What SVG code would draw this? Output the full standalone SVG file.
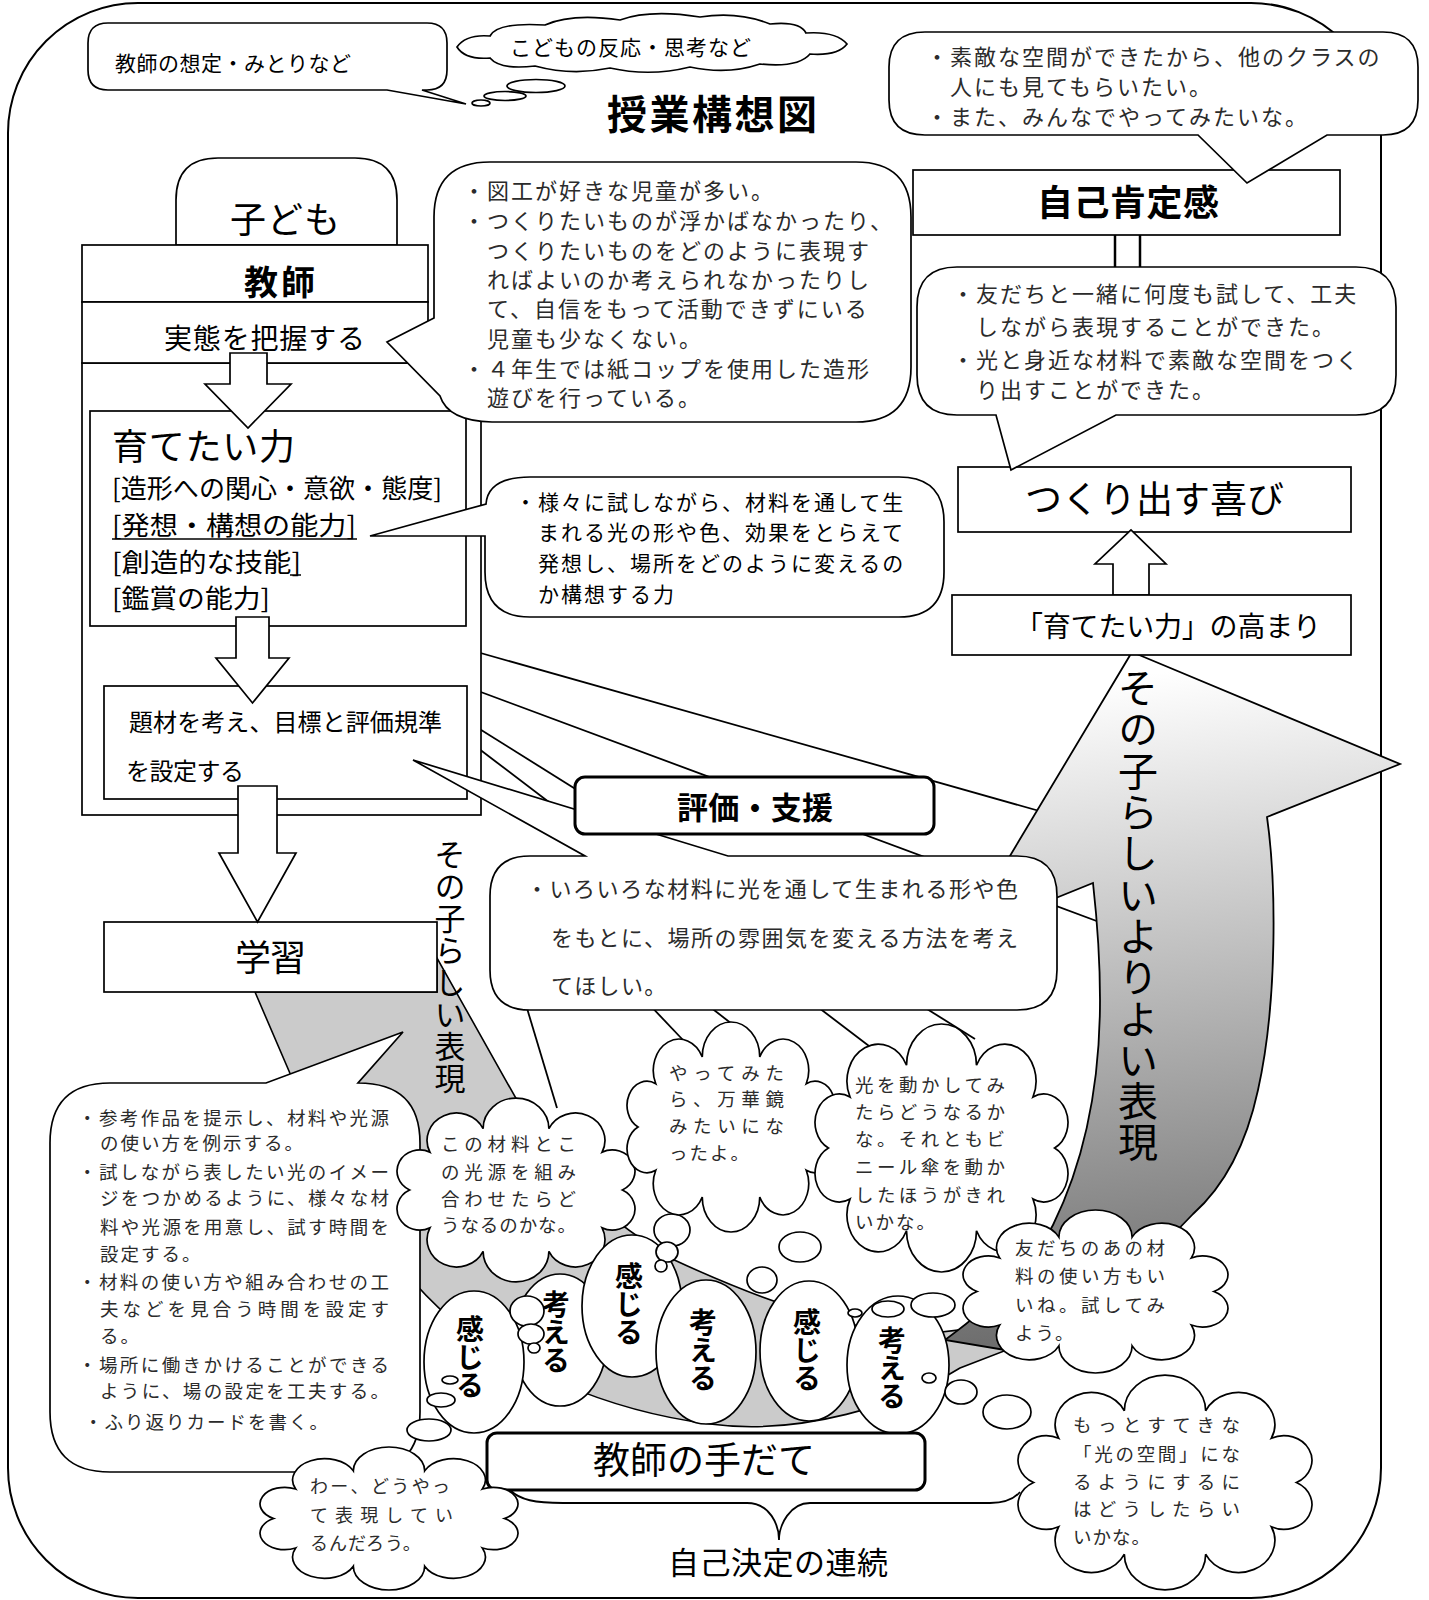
<svg xmlns="http://www.w3.org/2000/svg" width="1429" height="1600" viewBox="0 0 1429 1600">
<defs>
<style>
.g{font-family:"Noto Sans CJK JP","Noto Sans",sans-serif;fill:#000}
.m{font-family:"Noto Sans CJK JP","Noto Sans",sans-serif;fill:#2b2b2b}
.b{font-weight:700}
.s{fill:#fff;stroke:#000;stroke-width:1.7}
.t{fill:#fff;stroke:#000;stroke-width:3}
.ln{fill:none;stroke:#000;stroke-width:1.8}
.v{writing-mode:vertical-rl}
.cl{fill:#fff;stroke:#000;stroke-width:1.7}
</style>
<linearGradient id="ag" gradientUnits="userSpaceOnUse" x1="1100" y1="680" x2="1180" y2="1320">
<stop offset="0" stop-color="#ffffff"/><stop offset="1" stop-color="#6e6e6e"/>
</linearGradient>
<path id="cloud" vector-effect="non-scaling-stroke" d="M86,0 A1,1 0 0 1 69.6,32.9 A1,1 0 0 1 26.6,53.3 A1,1 0 0 1 -26.6,53.3 A1,1 0 0 1 -69.6,32.9 A1,1 0 0 1 -86,0 A1,1 0 0 1 -69.6,-32.9 A1,1 0 0 1 -26.6,-53.3 A1,1 0 0 1 26.6,-53.3 A1,1 0 0 1 69.6,-32.9 A1,1 0 0 1 86,0 Z"/>
</defs>

<rect id="frame" x="8" y="3" width="1373" height="1595" rx="130" fill="#fff" stroke="#000" stroke-width="2"/>

<g id="connectors" class="ln">
<line x1="470" y1="650" x2="1050" y2="814"/>
<line x1="470" y1="688" x2="1110" y2="926"/>
<line x1="470" y1="723" x2="975" y2="1039"/>
<line x1="470" y1="742" x2="890" y2="1062"/>
<line x1="523" y1="995" x2="557" y2="1108"/>
<line x1="645" y1="1000" x2="683" y2="1040"/>
<line x1="705" y1="1003" x2="741" y2="1031"/>
</g>

<g id="n-flow">
<path d="M255,992 L292,1078 C330,1170 385,1262 450,1318 C510,1365 600,1410 710,1424 C800,1436 900,1405 960,1368 L1012,1348 L992,1322 C950,1336 900,1336 850,1324 C790,1310 730,1286 670,1258 C610,1220 570,1185 545,1150 L437,958 L437,992 Z" fill="#cbcbcb" stroke="#000" stroke-width="1.6"/>
<path d="M1132,652 L1400,764 L1267,817 C1276,880 1278,1000 1258,1090 C1245,1150 1220,1190 1193,1214 C1140,1270 1070,1330 1005,1350 L945,1340 C1000,1300 1035,1260 1053,1225 C1080,1170 1100,1100 1100,1000 C1100,950 1096,910 1093,883 L962,936 Z" fill="url(#ag)" stroke="#000" stroke-width="1.8"/>
</g>

<g id="n-left">
<rect class="s" x="82" y="363" width="399" height="452"/>
<path class="s" d="M176,245 V200 Q176,158 218,158 H355 Q397,158 397,200 V245 Z"/>
<text class="g" x="230" y="233" font-size="36" textLength="110" lengthAdjust="spacing">子ども</text>
<rect class="s" x="82" y="245" width="346" height="57"/>
<text class="g b" x="244" y="295" font-size="34" textLength="71" lengthAdjust="spacing">教師</text>
<rect class="s" x="82" y="302" width="346" height="61"/>
<text class="g" x="164" y="349" font-size="28" textLength="201" lengthAdjust="spacing">実態を把握する</text>
<rect class="s" x="90" y="411" width="376" height="215"/>
<text class="g" x="112" y="460" font-size="36" textLength="183" lengthAdjust="spacing">育てたい力</text>
<text class="g" x="112" y="498" font-size="26" textLength="330" lengthAdjust="spacingAndGlyphs">[造形への関心・意欲・態度]</text>
<text class="g" x="112" y="535" font-size="26" textLength="244" lengthAdjust="spacingAndGlyphs">[発想・構想の能力]</text>
<line x1="112" y1="539" x2="357" y2="539" stroke="#000" stroke-width="1.5"/>
<text class="g" x="112" y="572" font-size="26" textLength="189" lengthAdjust="spacingAndGlyphs">[創造的な技能]</text>
<line x1="290" y1="575" x2="301" y2="575" stroke="#000" stroke-width="1.5"/>
<text class="g" x="112" y="608" font-size="26" textLength="158" lengthAdjust="spacingAndGlyphs">[鑑賞の能力]</text>
<rect class="s" x="104" y="686" width="363" height="113"/>
<text class="g" x="129" y="731" font-size="24" textLength="313" lengthAdjust="spacing">題材を考え、目標と評価規準</text>
<text class="g" x="126" y="780" font-size="24" textLength="118" lengthAdjust="spacing">を設定する</text>
<rect class="s" x="104" y="922" width="333" height="70"/>
<text class="g" x="235" y="971" font-size="36" textLength="71" lengthAdjust="spacing">学習</text>
<polygon class="s" points="230,353 267,353 267,384 291,384 248,428 205,384 230,384"/>
<polygon class="s" points="236,617 269,617 269,658 289,658 252.5,703 216,658 236,658"/>
<polygon class="s" points="238,786 277,786 277,853 296,853 257.5,922 219,853 238,853"/>
</g>

<g id="n-legend">
<path class="s" d="M108,23 H427 Q447,23 447,43 V70 Q447,90 427,90 H422 L466,104 L387,90 H108 Q88,90 88,70 V43 Q88,23 108,23 Z"/>
<text class="g" x="115" y="71" font-size="21" textLength="236" lengthAdjust="spacing">教師の想定・みとりなど</text>
<path class="s" d="M457,47 Q466,34 490,36 Q497,22 545,25 Q572,13 620,20 Q650,9 700,17 Q738,11 770,24 Q800,21 806,33 Q836,31 847,44 Q838,56 810,54 Q798,68 760,64 Q728,75 690,67 Q650,77 610,68 Q572,76 535,66 Q500,70 490,58 Q465,60 457,47 Z"/>
<ellipse class="s" cx="536" cy="86" rx="29" ry="6.5"/>
<ellipse class="s" cx="505" cy="96" rx="21" ry="4.5"/>
<ellipse class="s" cx="481" cy="103" rx="9" ry="3"/>
<text class="g" x="510" y="55" font-size="21" textLength="241" lengthAdjust="spacing">こどもの反応・思考など</text>
</g>

<g id="n-title">
<text class="g b" x="607" y="129" font-size="40" textLength="210" lengthAdjust="spacing">授業構想図</text>
</g>

<g id="n-situation">
<path class="s" d="M490,162 H856 Q911,162 911,217 V367 Q911,422 856,422 H492 Q448,421 440,396 L387,342 L434,318 V217 Q434,162 490,162 Z"/>
<g class="m" font-size="22" letter-spacing="2">
<text x="463" y="199">・図工が好きな児童が多い。</text>
<text x="463" y="229">・つくりたいものが浮かばなかったり、</text>
<text x="487" y="259">つくりたいものをどのように表現す</text>
<text x="487" y="288">ればよいのか考えられなかったりし</text>
<text x="487" y="317">て、自信をもって活動できずにいる</text>
<text x="487" y="347">児童も少なくない。</text>
<text x="463" y="377">・４年生では紙コップを使用した造形</text>
<text x="487" y="406">遊びを行っている。</text>
</g>
</g>

<g id="n-ability">
<path class="s" d="M530,477 H899 Q944,477 944,522 V572 Q944,617 899,617 H530 Q485,617 485,572 V536 L370,536 L486,504 Q488,477 530,477 Z"/>
<g class="g" font-size="21" letter-spacing="2" fill="#222">
<text x="515" y="510">・様々に試しながら、材料を通して生</text>
<text x="538" y="540">まれる光の形や色、効果をとらえて</text>
<text x="538" y="571">発想し、場所をどのように変えるの</text>
<text x="538" y="602">か構想する力</text>
</g>
</g>

<g id="n-selfesteem">
<rect class="s" x="913" y="170" width="427" height="65"/>
<text class="g b" x="1037" y="216" font-size="36" textLength="182" lengthAdjust="spacing">自己肯定感</text>
<line x1="1115" y1="235" x2="1115" y2="268" stroke="#000" stroke-width="2.5"/>
<line x1="1140" y1="235" x2="1140" y2="268" stroke="#000" stroke-width="2.5"/>
</g>

<g id="n-wish">
<path class="s" d="M925,32 H1383 Q1418,32 1418,67 V100 Q1418,135 1383,135 H1327 L1247,183 L1198,135 H925 Q889,135 889,100 V67 Q889,32 925,32 Z"/>
<g class="m" font-size="22" letter-spacing="2">
<text x="926" y="65">・素敵な空間ができたから、他のクラスの</text>
<text x="950" y="95">人にも見てもらいたい。</text>
<text x="926" y="125">・また、みんなでやってみたいな。</text>
</g>
</g>

<g id="n-joy">
<rect class="s" x="958" y="467" width="393" height="65"/>
<text class="g" x="1025" y="513" font-size="37" textLength="259" lengthAdjust="spacing">つくり出す喜び</text>
<polygon class="s" points="1113,595 1113,564 1095,564 1131,530 1166,564 1149,564 1149,595"/>
</g>

<g id="n-achieved">
<path class="s" d="M957,267 H1356 Q1396,267 1396,307 V375 Q1396,415 1356,415 H1116 L1011,470 L996,415 H957 Q917,415 917,375 V307 Q917,267 957,267 Z"/>
<g class="m" font-size="22" letter-spacing="2">
<text x="952" y="302">・友だちと一緒に何度も試して、工夫</text>
<text x="976" y="335">しながら表現することができた。</text>
<text x="952" y="368">・光と身近な材料で素敵な空間をつく</text>
<text x="976" y="398">り出すことができた。</text>
</g>
</g>

<g id="n-growth">
<rect class="s" x="952" y="595" width="399" height="60"/>
<text class="g" x="1015" y="637" font-size="28" textLength="306" lengthAdjust="spacing">「育てたい力」の高まり</text>
</g>

<g id="n-goal">
<path class="s" d="M530,856 H585 L413,760 L728,856 H1017 Q1057,856 1057,896 V970 Q1057,1010 1017,1010 H530 Q490,1010 490,970 V896 Q490,856 530,856 Z"/>
<g class="m" font-size="22">
<text x="526" y="897" textLength="492" lengthAdjust="spacing">・いろいろな材料に光を通して生まれる形や色</text>
<text x="551" y="946" textLength="467" lengthAdjust="spacing">をもとに、場所の雰囲気を変える方法を考え</text>
<text x="551" y="994" letter-spacing="1.3">てほしい。</text>
</g>
</g>

<g id="n-eval">
<rect class="t" x="575" y="777" width="359" height="57" rx="10"/>
<text class="g b" x="677" y="819" font-size="31" textLength="156" lengthAdjust="spacing">評価・支援</text>
</g>

<g id="n-flowtext">
<text class="g v" x="450" y="839" font-size="31" letter-spacing="0.9">その子らしい表現</text>
<text class="g v" x="1138" y="668" font-size="40" letter-spacing="1.3">その子らしいよりよい表現</text>
</g>

<g id="n-support">
<path class="s" d="M110,1083 H266 L403,1032 L358,1083 Q420,1083 420,1143 V1412 Q420,1472 360,1472 H110 Q50,1472 50,1412 V1143 Q50,1083 110,1083 Z"/>
<g class="m" font-size="18.5">
<text x="78" y="1125" textLength="311" lengthAdjust="spacing">・参考作品を提示し、材料や光源</text>
<text x="100" y="1150" letter-spacing="2">の使い方を例示する。</text>
<text x="78" y="1179" textLength="311" lengthAdjust="spacing">・試しながら表したい光のイメー</text>
<text x="100" y="1205" textLength="289" lengthAdjust="spacing">ジをつかめるように、様々な材</text>
<text x="100" y="1234" textLength="289" lengthAdjust="spacing">料や光源を用意し、試す時間を</text>
<text x="100" y="1261" letter-spacing="2">設定する。</text>
<text x="78" y="1289" textLength="311" lengthAdjust="spacing">・材料の使い方や組み合わせの工</text>
<text x="100" y="1316" textLength="289" lengthAdjust="spacing">夫などを見合う時間を設定す</text>
<text x="100" y="1343" letter-spacing="2">る。</text>
<text x="78" y="1372" textLength="311" lengthAdjust="spacing">・場所に働きかけることができる</text>
<text x="100" y="1398" textLength="289" lengthAdjust="spacing">ように、場の設定を工夫する。</text>
<text x="84" y="1429" letter-spacing="2">・ふり返りカードを書く。</text>
</g>
</g>

<g id="n-thinking">
<ellipse class="s" cx="560" cy="1340" rx="47" ry="66"/>
<text class="g b v" x="556" y="1290" font-size="28">考える</text>
</g>

<g id="n-cloud-combine">
<use href="#cloud" class="cl" transform="translate(516,1190) scale(1.237,1.151)"/>
<g class="m" font-size="18.5">
<text x="441" y="1151" textLength="135" lengthAdjust="spacing">この材料とこ</text>
<text x="441" y="1179" textLength="135" lengthAdjust="spacing">の光源を組み</text>
<text x="441" y="1206" textLength="135" lengthAdjust="spacing">合わせたらど</text>
<text x="441" y="1232" textLength="135" lengthAdjust="spacing">うなるのかな。</text>
</g>
</g>

<g id="n-feel-think">
<ellipse class="s" cx="474" cy="1362" rx="50" ry="71"/>
<text class="g b v" x="470" y="1315" font-size="28">感じる</text>
<ellipse class="s" cx="632" cy="1306" rx="50" ry="71"/>
<text class="g b v" x="629" y="1262" font-size="28">感じる</text>
<ellipse class="s" cx="706" cy="1352" rx="50" ry="72"/>
<text class="g b v" x="703" y="1308" font-size="28">考える</text>
<ellipse class="s" cx="809" cy="1351" rx="49" ry="70"/>
<text class="g b v" x="807" y="1308" font-size="28">感じる</text>
<ellipse class="s" cx="898" cy="1365" rx="51" ry="69"/>
<text class="g b v" x="892" y="1326" font-size="28">考える</text>
</g>

<g id="n-bubbles-small">
<ellipse class="s" cx="527" cy="1311" rx="17" ry="15"/>
<ellipse class="s" cx="531" cy="1334" rx="13" ry="10"/>
<ellipse class="s" cx="534" cy="1348" rx="6" ry="5"/>
<ellipse class="s" cx="672" cy="1230" rx="18" ry="16"/>
<ellipse class="s" cx="667" cy="1252" rx="11" ry="10"/>
<ellipse class="s" cx="661" cy="1266" rx="6" ry="6"/>
<ellipse class="s" cx="800" cy="1247" rx="21" ry="15"/>
<ellipse class="s" cx="762" cy="1280" rx="15" ry="13"/>
<ellipse class="s" cx="933" cy="1305" rx="22" ry="12"/>
<ellipse class="s" cx="888" cy="1309" rx="16" ry="8"/>
<ellipse class="s" cx="855" cy="1313" rx="7" ry="4"/>
<ellipse class="s" cx="929" cy="1378" rx="7" ry="5"/>
<ellipse class="s" cx="961" cy="1392" rx="16" ry="12"/>
<ellipse class="s" cx="1007" cy="1412" rx="24" ry="17"/>
<ellipse class="s" cx="450" cy="1380" rx="8" ry="4"/>
<ellipse class="s" cx="441" cy="1400" rx="14" ry="7"/>
<ellipse class="s" cx="429" cy="1430" rx="22" ry="11"/>
</g>

<g id="n-cloud-kaleido">
<use href="#cloud" class="cl" transform="translate(731,1127) scale(1.081,1.314)"/>
<g class="m" font-size="18.5">
<text x="669" y="1080" textLength="115" lengthAdjust="spacing">やってみた</text>
<text x="669" y="1106" textLength="115" lengthAdjust="spacing">ら、万華鏡</text>
<text x="669" y="1133" textLength="115" lengthAdjust="spacing">みたいにな</text>
<text x="669" y="1160" letter-spacing="2">ったよ。</text>
</g>
</g>

<g id="n-cloud-light">
<use href="#cloud" class="cl" transform="translate(941.5,1148) scale(1.315,1.552)"/>
<g class="m" font-size="18.5">
<text x="855" y="1092" textLength="150" lengthAdjust="spacing">光を動かしてみ</text>
<text x="855" y="1119" textLength="150" lengthAdjust="spacing">たらどうなるか</text>
<text x="855" y="1146" textLength="150" lengthAdjust="spacing">な。それともビ</text>
<text x="855" y="1174" textLength="150" lengthAdjust="spacing">ニール傘を動か</text>
<text x="855" y="1202" textLength="150" lengthAdjust="spacing">したほうがきれ</text>
<text x="855" y="1229" letter-spacing="2">いかな。</text>
</g>
</g>

<g id="n-cloud-friend">
<use href="#cloud" class="cl" transform="translate(1095.5,1291.5) scale(1.377,1.02)"/>
<g class="m" font-size="18.5">
<text x="1015" y="1255" textLength="150" lengthAdjust="spacing">友だちのあの材</text>
<text x="1015" y="1283" textLength="150" lengthAdjust="spacing">料の使い方もい</text>
<text x="1015" y="1312" textLength="150" lengthAdjust="spacing">いね。試してみ</text>
<text x="1015" y="1340" letter-spacing="2">よう。</text>
</g>
</g>

<g id="n-method">
<rect class="t" x="487" y="1433" width="438" height="57" rx="10"/>
<text class="g" x="593" y="1474" font-size="37" textLength="222" lengthAdjust="spacing">教師の手だて</text>
</g>

<g id="n-decision">
<path class="ln" d="M510,1490 C520,1500 535,1503 563,1503 L747,1503 C770,1503 779,1525 779,1540 C779,1525 790,1503 810,1503 L990,1503 C1005,1503 1015,1498 1020,1492" stroke-width="1.6"/>
<text class="g" x="668" y="1574" font-size="31" textLength="220" lengthAdjust="spacing">自己決定の連続</text>
</g>

<g id="n-cloud-better">
<use href="#cloud" class="cl" transform="translate(1165,1482.5) scale(1.528,1.345)"/>
<g class="m" font-size="18.5">
<text x="1073" y="1432" textLength="167" lengthAdjust="spacing">もっとすてきな</text>
<text x="1073" y="1461" textLength="167" lengthAdjust="spacing">「光の空間」にな</text>
<text x="1073" y="1489" textLength="167" lengthAdjust="spacing">るようにするに</text>
<text x="1073" y="1516" textLength="167" lengthAdjust="spacing">はどうしたらい</text>
<text x="1073" y="1544" letter-spacing="1">いかな。</text>
</g>
</g>

<g id="n-cloud-wow">
<use href="#cloud" class="cl" transform="translate(389,1518.5) scale(1.341,0.895)"/>
<g class="m" font-size="18">
<text x="310" y="1493" textLength="140" lengthAdjust="spacing">わー、どうやっ</text>
<text x="310" y="1522" textLength="143" lengthAdjust="spacing">て表現してい</text>
<text x="310" y="1550" letter-spacing="1">るんだろう。</text>
</g>
</g>
</svg>
